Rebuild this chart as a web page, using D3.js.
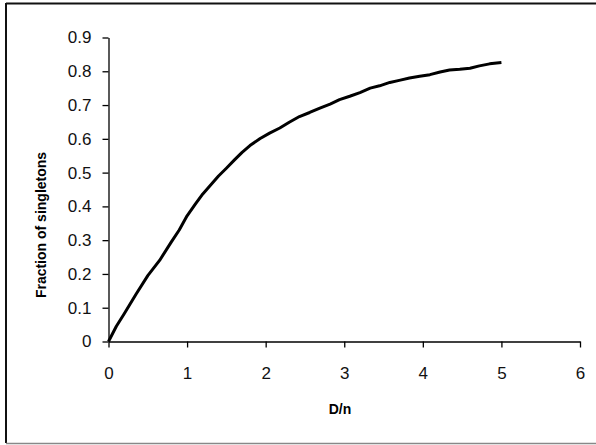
<!DOCTYPE html>
<html>
<head>
<meta charset="utf-8">
<script src="https://d3js.org/d3.v7.min.js"></script>
<title>Singletons</title>
<style>
body { margin: 0; background: #fff; }
text { font-family: "Liberation Sans", Arial, sans-serif; }
</style>
</head>
<body>
<script>

// fraction of singletons against D/n
var dn = [0, 0.1, 0.2, 0.35, 0.5, 0.65, 0.8, 0.9, 1.0, 1.1, 1.2, 1.3, 1.4, 1.5, 1.6,
  1.7, 1.8, 1.93, 2.05, 2.18, 2.3, 2.43, 2.56, 2.69, 2.82, 2.94, 3.07, 3.2,
  3.33, 3.45, 3.58, 3.7, 3.83, 3.96, 4.09, 4.22, 4.34, 4.47, 4.6, 4.72, 4.85, 5.0];
var frac = [0, 0.045, 0.082, 0.14, 0.195, 0.24, 0.295, 0.33, 0.372, 0.405, 0.437, 0.463, 0.49, 0.513, 0.537,
  0.56, 0.58, 0.601, 0.617, 0.632, 0.649, 0.666, 0.678, 0.691, 0.703, 0.716, 0.726, 0.737,
  0.75, 0.757, 0.767, 0.773, 0.78, 0.785, 0.79, 0.798, 0.804, 0.806, 0.809, 0.816, 0.822, 0.826];

var xTicks = [0, 1, 2, 3, 4, 5, 6];
var yTicks = [0, 0.1, 0.2, 0.3, 0.4, 0.5, 0.6, 0.7, 0.8, 0.9];

var width = 596,
    height = 445;

var svg = d3.select("body")
  .append("svg")
  .attr("width", width)
  .attr("height", height);

// chart frame
svg.append("line").attr("x1", 6).attr("x2", width).attr("y1", 3.5).attr("y2", 3.5)
  .attr("stroke", "#111").attr("stroke-width", 2);
svg.append("line").attr("x1", 6).attr("x2", 6).attr("y1", 3).attr("y2", 443)
  .attr("stroke", "#111").attr("stroke-width", 2);
svg.append("line").attr("x1", 6).attr("x2", width).attr("y1", 443.5).attr("y2", 443.5)
  .attr("stroke", "#888").attr("stroke-width", 1.5);

var x = d3.scaleLinear().domain([0, 6]).range([108.5, 580]);
var y = d3.scaleLinear().domain([0, 0.9]).range([341.5, 37.5]);

var xAxis = svg.append("g")
  .attr("transform", "translate(0," + y(0) + ")")
  .call(d3.axisBottom(x).tickValues(xTicks).tickFormat(d3.format("d"))
    .tickSize(6).tickSizeOuter(0).tickPadding(19));

var yAxis = svg.append("g")
  .attr("transform", "translate(" + x(0) + ",0)")
  .call(d3.axisLeft(y).tickValues(yTicks).tickFormat(function(d) { return d === 0 ? "0" : d3.format(".1f")(d); })
    .tickSize(6).tickSizeOuter(0).tickPadding(11));

svg.selectAll(".tick text")
  .attr("font-family", "Liberation Sans, Arial, sans-serif")
  .attr("font-size", 17)
  .attr("fill", "#111");
svg.selectAll(".domain, .tick line").attr("stroke", "#000").attr("stroke-width", 1.3);

var line = d3.line()
  .x(function(d, i) { return x(dn[i]); })
  .y(function(d, i) { return y(frac[i]); });

svg.append("path")
  .datum(frac)
  .attr("fill", "none")
  .attr("stroke", "#000")
  .attr("stroke-width", 3)
  .attr("stroke-linejoin", "round")
  .attr("d", line);

svg.append("text")
  .attr("x", 340)
  .attr("y", 414)
  .attr("text-anchor", "middle")
  .attr("font-weight", "bold")
  .attr("font-size", 14)
  .text("D/n");

svg.append("text")
  .attr("transform", "translate(46,225) rotate(-90)")
  .attr("text-anchor", "middle")
  .attr("font-weight", "bold")
  .attr("font-size", 14)
  .text("Fraction of singletons");

</script>
</body>
</html>
